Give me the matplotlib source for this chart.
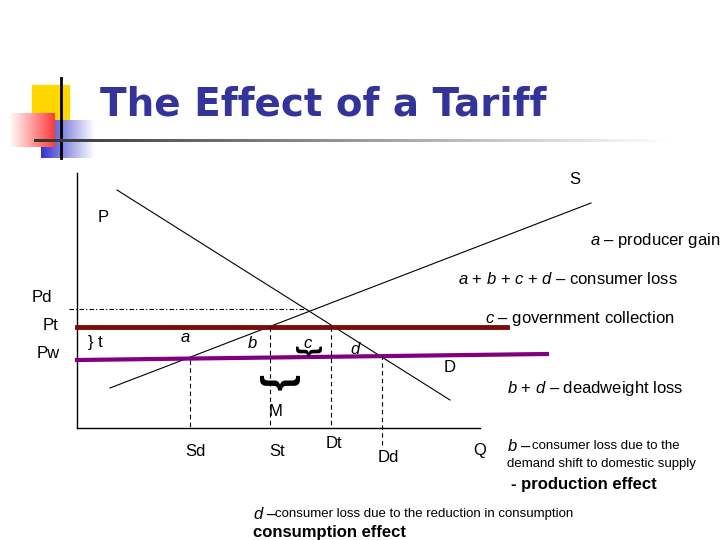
import matplotlib
matplotlib.use("Agg")
import matplotlib.pyplot as plt
import numpy as np
from matplotlib.patches import Rectangle
from matplotlib.colors import LinearSegmentedColormap

plt.rcParams['font.family'] = ['Liberation Sans', 'DejaVu Sans']
plt.rcParams['mathtext.fontset'] = 'custom'
plt.rcParams['mathtext.it'] = 'Liberation Sans:italic'
plt.rcParams['mathtext.rm'] = 'Liberation Sans'

# diagram geometry (pixel space of the slide)
demand_x = [117, 450]; demand_y = [190, 400]
supply_x = [110, 591]; supply_y = [388, 203]
pt_x = [77, 507]; pt_y = [327, 327]
pw_x = [77, 547]; pw_y = [360, 354]
pd_x = [69, 308]; pd_y = [309, 309]
vlines_x = [190, 270, 331, 382]
vlines_top = [360, 327, 327, 355]
vlines_bot = [428, 428, 428, 445]
qlabels = ["Sd", "St", "Dt", "Dd", "Q"]
qlabel_x = [195, 277, 334, 388, 480]
qlabel_y = [451, 451, 444, 457, 451]

fig = plt.figure(figsize=(7.2, 5.4), dpi=100)
ax = fig.add_axes([0, 0, 1, 1])
ax.set_xlim(0, 720); ax.set_ylim(540, 0); ax.axis("off")

# logo
ax.add_patch(Rectangle((32, 85), 37, 35, color="#FFD700", zorder=1))
cr = LinearSegmentedColormap.from_list("r", ["#ffffff", "#ff3b3b"])
ax.imshow(np.linspace(0, 1, 64).reshape(1, -1) * np.ones((32, 1)), cmap=cr, extent=(9, 55, 147, 113), zorder=2, aspect="auto")
cb = LinearSegmentedColormap.from_list("b", ["#3333cc", "#ffffff"])
ax.imshow(np.linspace(0, 1, 64).reshape(1, -1) * np.ones((32, 1)), cmap=cb, extent=(41, 95, 158, 120), zorder=1, aspect="auto")
ax.plot([61, 61], [78, 158], color="black", lw=2, zorder=3)
cl = LinearSegmentedColormap.from_list("l", ["#333333", "#ffffff"])
ax.imshow(np.linspace(0, 1, 256).reshape(1, -1), cmap=cl, extent=(34, 670, 142.5, 139.5), zorder=3, aspect="auto")
ax.text(100, 104, "The Effect of a Tariff", fontsize=28, fontweight="bold", color="#333399",
        va="center", ha="left", family=["DejaVu Sans"])

# axes
ax.plot([77, 77], [173, 428], color="black", lw=1)
ax.plot([77, 480], [428, 428], color="black", lw=1)
ax.plot(demand_x, demand_y, color="black", lw=0.8)
ax.plot(supply_x, supply_y, color="black", lw=0.8)
ax.plot(pd_x, pd_y, color="black", lw=0.8, ls=(0, (4, 2, 1, 2)))
ax.plot(pt_x, pt_y, color="#7a0c0c", lw=3.5)
ax.plot(pw_x, pw_y, color="#800080", lw=3)
for x, t, b in zip(vlines_x, vlines_top, vlines_bot):
    ax.plot([x, x], [t, b], color="black", lw=0.8, ls=(0, (4, 3)))

fs = 12
ax.text(575, 180, "S", fontsize=fs, ha="center", va="center")
ax.text(103, 218, "P", fontsize=fs, ha="center", va="center")
ax.text(42, 297, "Pd", fontsize=fs, ha="center", va="center")
ax.text(50, 326, "Pt", fontsize=fs, ha="center", va="center")
ax.text(48, 354, "Pw", fontsize=fs, ha="center", va="center")
ax.text(95, 342, "} t", fontsize=fs, ha="center", va="center")
ax.text(185, 338, "a", fontsize=fs, style="italic", ha="center", va="center")
ax.text(252, 343, "b", fontsize=fs, style="italic", ha="center", va="center")
ax.text(308, 344, "c", fontsize=fs, style="italic", ha="center", va="center")
ax.text(307, 350, "}", fontsize=20, fontweight="bold", ha="center", va="center", rotation=-90)
ax.text(355, 350, "d", fontsize=fs, style="italic", ha="center", va="center")
ax.text(450, 368, "D", fontsize=fs, ha="center", va="center")
ax.text(278, 382, "}", fontsize=30, fontweight="bold", ha="center", va="center", rotation=-90)
ax.text(276, 411, "M", fontsize=fs, ha="center", va="center")
for lab, x, y in zip(qlabels, qlabel_x, qlabel_y):
    ax.text(x, y, lab, fontsize=fs, ha="center", va="center")

ax.text(720, 241, "$a$ – producer gain", fontsize=fs, ha="right", va="center")
ax.text(458, 279, "$a$ + $b$ + $c$ + $d$ – consumer loss", fontsize=fs, ha="left", va="center")
ax.text(485, 319, "$c$ – government collection", fontsize=fs, ha="left", va="center")
ax.text(507, 389, "$b$ + $d$ – deadweight loss", fontsize=fs, ha="left", va="center")
ax.text(507, 446, "$b$ –", fontsize=fs, ha="left", va="center")
ax.text(532, 446, "consumer loss due to the", fontsize=9.5, ha="left", va="center")
ax.text(507, 464, "demand shift to domestic supply", fontsize=9.5, ha="left", va="center")
ax.text(511, 484, "- production effect", fontsize=12, fontweight="bold", ha="left", va="center")
ax.text(253, 514, "$d$ –", fontsize=fs, ha="left", va="center")
ax.text(275, 514, "consumer loss due to the reduction in consumption", fontsize=9.5, ha="left", va="center")
ax.text(253, 533, "consumption effect", fontsize=12, fontweight="bold", ha="left", va="center")

fig.savefig("out.png", dpi=100)
